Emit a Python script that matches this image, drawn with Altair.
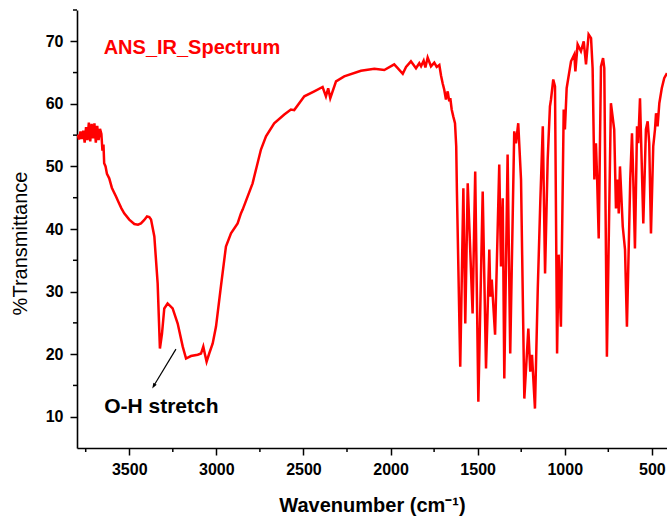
import altair as alt
import pandas as pd

# Wavenumber (cm-1) and %Transmittance
wavenumber = [
    3796, 3788, 3780, 3772, 3764, 3756, 3748, 3740, 3732, 3724, 3716, 3708, 3700, 3692,
    3684, 3676, 3668, 3660, 3654, 3648, 3644, 3636, 3628, 3615, 3600, 3590, 3576, 3560,
    3545, 3529, 3500, 3471, 3450, 3433, 3415, 3398, 3385, 3375, 3356, 3337, 3324, 3312,
    3299, 3280, 3251, 3222, 3193, 3174, 3146, 3107, 3088, 3075, 3065, 3056, 3041, 3021,
    3002, 2974, 2945, 2916, 2878, 2859, 2849, 2792, 2744, 2715, 2668, 2610, 2572, 2553,
    2495, 2438, 2390, 2371, 2358, 2346, 2313, 2266, 2170, 2093, 2036, 1979, 1959, 1930,
    1911, 1883, 1854, 1835, 1825, 1810, 1800, 1787, 1768, 1749, 1735, 1720, 1710, 1701,
    1692, 1682, 1672, 1663, 1657, 1649, 1640, 1630, 1623, 1619, 1600, 1582, 1571, 1557,
    1529, 1514, 1496, 1471, 1452, 1433, 1427, 1419, 1400, 1376, 1366, 1356, 1347, 1328,
    1313, 1290, 1280, 1267, 1251, 1232, 1209, 1198, 1188, 1171, 1155, 1140, 1126, 1113,
    1098, 1085, 1079, 1066, 1056, 1044, 1035, 1022, 1006, 999, 989, 964, 945, 939, 926,
    907, 891, 878, 863, 849, 840, 830, 821, 815, 805, 792, 780, 773, 758, 735, 716, 706,
    696, 690, 683, 667, 654, 643, 630, 624, 614, 607, 597, 585, 578, 568, 549, 534, 524,
    515, 505, 492, 482, 476, 467, 457, 443, 429, 413,
]
transmittance = [
    55.1, 54.3, 55.6, 54.4, 55.7, 53.8, 56.3, 54.2, 57.0, 54.0, 56.8, 54.5, 56.9, 53.8,
    56.5, 54.2, 56.0, 55.2, 52.5, 53.5, 50.5, 50.0, 48.8, 48.1, 46.6, 46.0, 45.2, 44.2,
    43.3, 42.5, 41.5, 40.8, 40.7, 40.9, 41.4, 42.0, 41.9, 41.5, 38.8, 31.3, 20.9, 23.3,
    27.3, 28.1, 27.3, 24.9, 21.2, 19.3, 19.7, 19.9, 20.1, 21.2, 19.9, 18.8, 20.1, 21.7,
    24.4, 30.8, 37.2, 39.3, 40.9, 42.5, 43.1, 47.3, 52.7, 54.8, 56.9, 58.3, 59.1, 59.0,
    61.2, 62.0, 62.7, 61.2, 62.5, 60.9, 63.6, 64.4, 65.3, 65.6, 65.4, 66.3, 65.7, 64.8,
    65.9, 66.8, 65.7, 66.5, 66.0, 66.9, 65.8, 67.4, 66.0, 66.6, 65.9, 66.2, 64.5, 63.3,
    62.3, 60.7, 62.0, 60.4, 60.9, 59.1, 58.0, 56.9, 53.2, 46.0, 18.0, 46.5, 24.9, 47.3,
    26.5, 49.2, 12.4, 46.0, 17.7, 36.7, 29.2, 31.9, 23.1, 50.3, 34.0, 44.9, 16.1, 51.9,
    20.1, 55.6, 53.7, 56.9, 47.9, 12.9, 24.1, 17.2, 19.9, 11.3, 30.3, 44.7, 56.4, 32.9,
    51.1, 59.6, 60.7, 63.9, 62.8, 20.1, 35.9, 24.4, 59.1, 55.9, 62.5, 66.8, 67.9, 65.2,
    69.5, 68.4, 70.0, 66.3, 71.1, 70.5, 65.7, 47.9, 53.7, 48.9, 38.5, 66.0, 67.3, 65.7,
    19.6, 60.1, 55.9, 43.3, 47.9, 42.5, 50.0, 40.4, 36.7, 24.4, 40.4, 47.9, 55.3, 48.4,
    36.9, 56.4, 53.7, 60.9, 40.9, 55.9, 57.2, 53.7, 39.3, 53.2, 55.9, 58.5, 56.4, 60.1,
    62.5, 64.1, 64.9,
]

x_major = [3500, 3000, 2500, 2000, 1500, 1000, 500]
x_minor = [3750, 3250, 2750, 2250, 1750, 1250, 750]
y_major = [10, 20, 30, 40, 50, 60, 70]
y_minor = [15, 25, 35, 45, 55, 65, 75]

title_text = ["ANS_IR_Spectrum"]
title_pos = [(3647, 68.9)]
note_text = ["O-H stretch"]
note_pos = [(3644, 11.6)]
arrow_from = [(3232, 20.8)]
arrow_to = [(3360, 14.9)]

df = pd.DataFrame({"wn": wavenumber, "T": transmittance, "idx": list(range(len(wavenumber)))})

x_scale = alt.Scale(domain=[413, 3800], reverse=True, nice=False, zero=False)
y_scale = alt.Scale(domain=[5, 75], nice=False, zero=False)

FONT = "Liberation Sans"
PLOT_H = 438

x_axis = alt.Axis(
    values=x_major,
    format="d",
    labelOverlap=False,
    tickSize=7,
    title="Wavenumber (cm\u207b\u00b9)",
    titleFont=FONT, titleFontSize=20, titleFontWeight="bold", titleColor="black",
    titlePadding=18,
    labelFont=FONT, labelFontSize=16, labelFontWeight="bold", labelColor="black",
    labelPadding=6,
    domainColor="black", domainWidth=1.6, tickColor="black", tickWidth=1.5,
    grid=False,
)
y_axis = alt.Axis(
    values=y_major,
    format="d",
    labelOverlap=False,
    tickSize=7,
    title="%Transmittance",
    titleFont=FONT, titleFontSize=20, titleFontWeight="normal", titleColor="black",
    titleX=-57, titleY=233, titleAngle=270, titleAlign="center", titleBaseline="middle",
    labelFont=FONT, labelFontSize=16, labelFontWeight="bold", labelColor="black",
    labelPadding=7,
    domainColor="black", domainWidth=1.6, tickColor="black", tickWidth=1.5,
    grid=False,
)


def X(field):
    return alt.X(field, scale=x_scale, axis=x_axis)


def Y(field):
    return alt.Y(field, scale=y_scale, axis=y_axis)


line = alt.Chart(df).mark_line(color="#FF0000", strokeWidth=2.5, clip=True).encode(
    x=X("wn:Q"), y=Y("T:Q"), order="idx:Q",
)

xm_df = pd.DataFrame({"v": x_minor})
x_minor_ticks = alt.Chart(xm_df).mark_rule(color="black", strokeWidth=1.5).encode(
    x=X("v:Q"), y=alt.value(PLOT_H), y2=alt.value(PLOT_H + 4),
)
ym_df = pd.DataFrame({"v": y_minor})
y_minor_ticks = alt.Chart(ym_df).mark_rule(color="black", strokeWidth=1.5).encode(
    y=Y("v:Q"), x=alt.value(-4), x2=alt.value(0),
)

title_df = pd.DataFrame({"x": [p[0] for p in title_pos], "y": [p[1] for p in title_pos], "t": title_text})
title_mark = alt.Chart(title_df).mark_text(
    align="left", baseline="middle", font=FONT, fontSize=20, fontWeight="bold", color="#FF0000"
).encode(x=X("x:Q"), y=Y("y:Q"), text="t:N")

note_df = pd.DataFrame({"x": [p[0] for p in note_pos], "y": [p[1] for p in note_pos], "t": note_text})
note_mark = alt.Chart(note_df).mark_text(
    align="left", baseline="middle", font=FONT, fontSize=21, fontWeight="bold", color="black"
).encode(x=X("x:Q"), y=Y("y:Q"), text="t:N")

arrow_df = pd.DataFrame({
    "x": [p[0] for p in arrow_from], "y": [p[1] for p in arrow_from],
    "x2": [p[0] for p in arrow_to], "y2": [p[1] for p in arrow_to],
})
shaft = alt.Chart(arrow_df).mark_rule(color="black", strokeWidth=1.2).encode(
    x=X("x:Q"), y=Y("y:Q"), x2="x2:Q", y2="y2:Q"
)
head = alt.Chart(arrow_df).mark_point(
    shape="M0,0.5 L-0.35,-0.5 L0.35,-0.5 Z", filled=True, color="black", size=120, angle=31,
    opacity=1, strokeWidth=0,
).encode(x=X("x2:Q"), y=Y("y2:Q"))

chart = alt.layer(line, x_minor_ticks, y_minor_ticks, title_mark, note_mark, shaft, head).properties(
    width=590, height=PLOT_H,
    background="white",
    padding={"left": 77, "top": 10, "right": 0, "bottom": 70},
    autosize=alt.AutoSizeParams(type="none"),
).configure_view(stroke=None)

chart.save("out.html", embed_options={"renderer": "svg", "actions": False})
